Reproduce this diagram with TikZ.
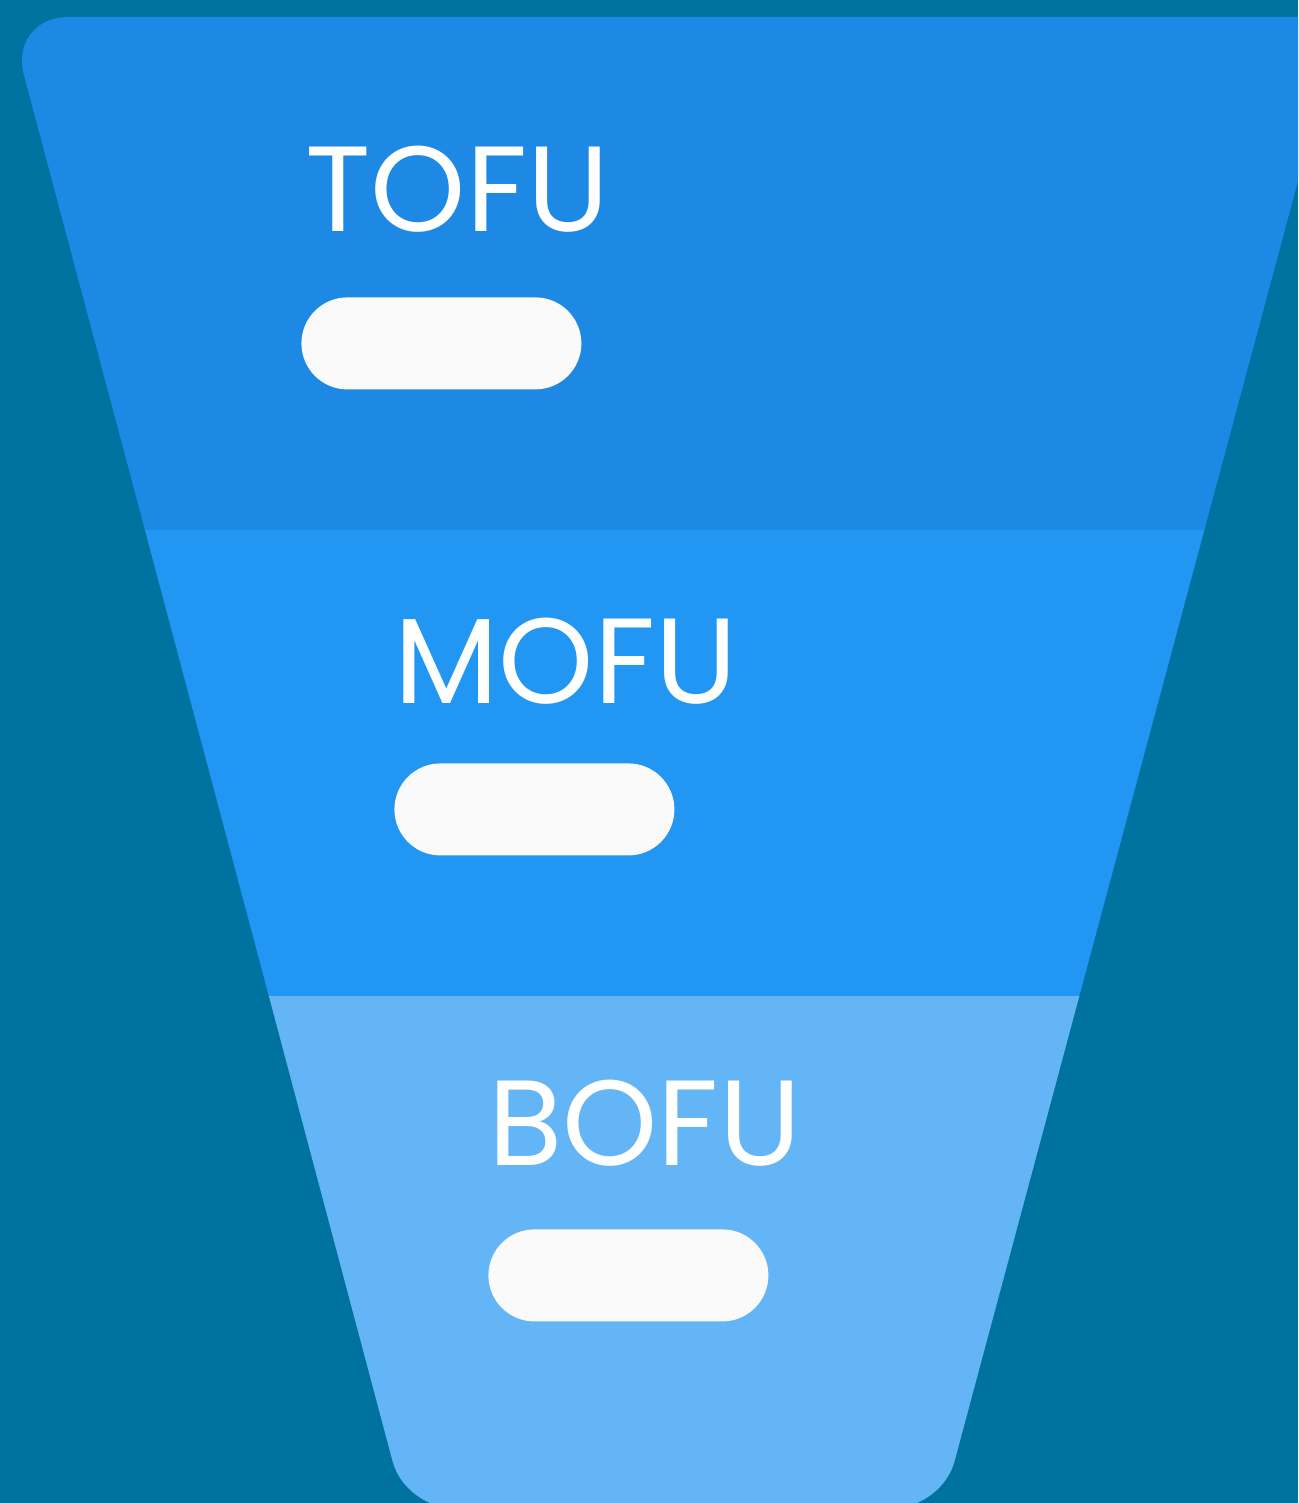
\documentclass[tikz,border=0pt]{standalone}
\usepackage{fontspec}
\setmainfont{Poppins}
\definecolor{bgteal}{HTML}{0072A0}
\definecolor{tofucol}{HTML}{1E88E5}
\definecolor{mofucol}{HTML}{2196F3}
\definecolor{bofucol}{HTML}{64B5F6}
\definecolor{pillcol}{HTML}{FAFAFA}
\tikzset{
  stagelabel/.style={anchor=base west, inner sep=0pt, text=white, font=\fontsize{60.6}{72}\selectfont},
  pill/.style={fill=pillcol, draw=none, rounded corners=23pt, minimum width=140pt, minimum height=46pt, inner sep=0pt, anchor=north west}
}
\begin{document}
\begin{tikzpicture}[x=0.5pt,y=-0.5pt]
\fill[bgteal] (0,0) rectangle (1298,1503);
\useasboundingbox (0,0) rectangle (1298,1503);
\begin{scope}
\clip (0,0) rectangle (1298,1503);
\clip (600,17) [rounded corners=24pt] -- (1342,17) -- (942,1508) -- (405,1508) [rounded corners=30pt] -- (8.5,17) [sharp corners] -- cycle;
\fill[tofucol] (0,0) rectangle (1400,530);
\fill[mofucol] (0,530) rectangle (1400,996);
\fill[bofucol] (0,996) rectangle (1400,1520);
\end{scope}
\node[stagelabel] (tofu) at (305,232) {TOFU};
\node[stagelabel] (mofu) at (394,703) {MOFU};
\node[stagelabel] (bofu) at (488,1165) {BOFU};
\node[pill] (tofupill) at (301,297) {};
\node[pill] (mofupill) at (394,763) {};
\node[pill] (bofupill) at (488,1229) {};
\end{tikzpicture}
\end{document}
